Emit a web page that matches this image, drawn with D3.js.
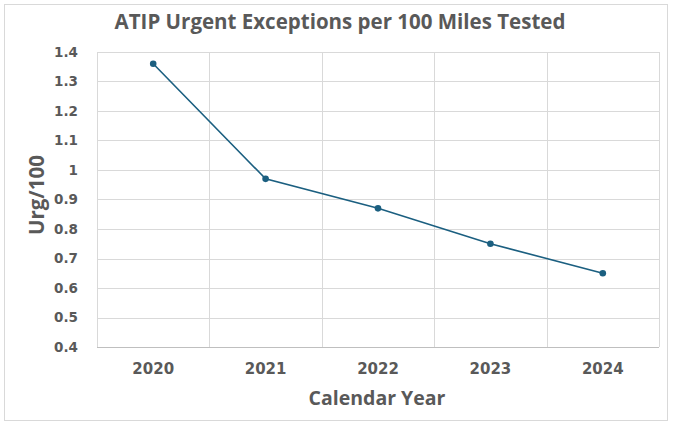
<!DOCTYPE html>
<html><head><meta charset="utf-8">
<script src="https://cdn.jsdelivr.net/npm/d3@7"></script>
<style>body{margin:0;background:#fff}svg{display:block}text{font-family:"Open Sans",sans-serif;font-weight:bold;fill:#595959}</style>
</head><body><svg id="c" width="677" height="425"></svg>
<script>
const years = ["2020","2021","2022","2023","2024"];
const values = [1.36, 0.97, 0.87, 0.75, 0.65];
const yTicks = [0.4,0.5,0.6,0.7,0.8,0.9,1,1.1,1.2,1.3,1.4];
const title = "ATIP Urgent Exceptions per 100 Miles Tested";
const xTitle = "Calendar Year";
const yTitle = "Urg/100";

const svg = d3.select("#c");
const m = {l:97, r:659, t:52, b:347};
svg.append("rect").attr("x",4.5).attr("y",4.5).attr("width",663).attr("height",416)
  .attr("fill","#fff").attr("stroke","#d9d9d9");

const x = d3.scaleBand().domain(years).range([m.l,m.r]);
const y = d3.scaleLinear().domain([0.4,1.4]).range([m.b,m.t]);

svg.append("g").selectAll("line").data(yTicks).join("line")
  .attr("x1",m.l).attr("x2",m.r).attr("y1",d=>Math.round(y(d))+0.5).attr("y2",d=>Math.round(y(d))+0.5)
  .attr("stroke","#d9d9d9").attr("stroke-width",1);
const bounds = years.map(d=>x(d)).concat([m.r]);
svg.append("g").selectAll("line").data(bounds).join("line")
  .attr("x1",d=>Math.round(d)+0.5).attr("x2",d=>Math.round(d)+0.5).attr("y1",m.t).attr("y2",m.b)
  .attr("stroke","#d9d9d9").attr("stroke-width",1);
svg.append("line").attr("x1",m.l).attr("x2",m.r).attr("y1",Math.round(m.b)+0.5).attr("y2",Math.round(m.b)+0.5)
  .attr("stroke","#bfbfbf");

const ya = d3.axisLeft(y).tickValues(yTicks).tickSize(0).tickPadding(19).tickFormat(d=>String(d));
const gy = svg.append("g").attr("transform",`translate(${m.l},0)`).call(ya);
gy.select(".domain").remove();
gy.selectAll("text").style("font-size","13.5px").attr("fill","#595959")
  .style("font-family","'DejaVu Sans',sans-serif").style("font-weight","bold");

const xa = d3.axisBottom(x).tickSize(0).tickPadding(16);
const gx = svg.append("g").attr("transform",`translate(0,${m.b})`).call(xa);
gx.select(".domain").remove();
gx.selectAll("text").style("font-size","15px").attr("fill","#595959")
  .style("font-family","'DejaVu Sans',sans-serif").style("font-weight","bold");

const cx = d=>x(d)+x.bandwidth()/2;
const line = d3.line().x((d,i)=>cx(years[i])).y(d=>y(d));
svg.append("path").datum(values).attr("d",line).attr("fill","none")
  .attr("stroke","#1b5f80").attr("stroke-width",1.6);
svg.append("g").selectAll("circle").data(values).join("circle")
  .attr("cx",(d,i)=>cx(years[i])).attr("cy",d=>y(d)).attr("r",3.3).attr("fill","#1b5f80");

svg.append("text").attr("x",340).attr("y",29).attr("text-anchor","middle")
  .style("font-size","20.5px").text(title);
svg.append("text").attr("x",377).attr("y",405).attr("text-anchor","middle")
  .style("font-size","19.5px").text(xTitle);
svg.append("text").attr("transform","translate(44,195) rotate(-90)").attr("text-anchor","middle")
  .style("font-size","20.5px").text(yTitle);
</script></body></html>
